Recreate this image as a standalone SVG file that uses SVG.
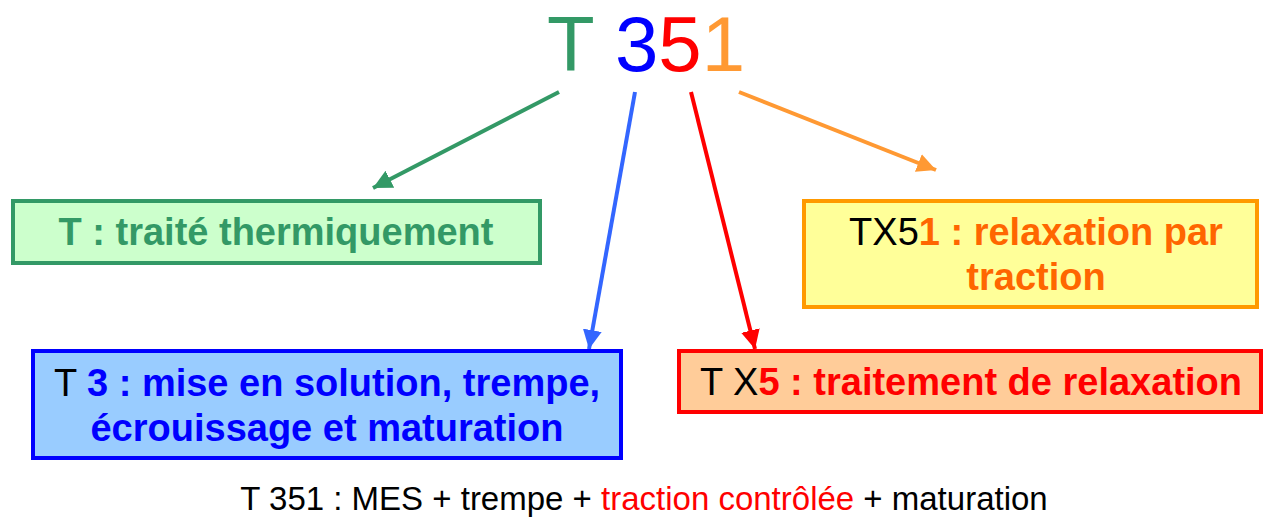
<svg xmlns="http://www.w3.org/2000/svg" width="1274" height="524" viewBox="0 0 1274 524">
<style>
.reg{font-family:"Liberation Sans",Arial,sans-serif;font-weight:normal}
.bold{font-family:"Liberation Sans",Arial,sans-serif;font-weight:bold}
.box{stroke-width:4}
.lbl{font-size:38px}
.conn{fill:none;stroke-width:4}
</style>
<defs>
<marker id="ahG" viewBox="0 0 10 10" refX="10" refY="5" markerUnits="userSpaceOnUse" markerWidth="19" markerHeight="21" orient="auto"><path d="M0,0 L10,5 L0,10 z" fill="#339966"/></marker>
<marker id="ahB" viewBox="0 0 10 10" refX="10" refY="5" markerUnits="userSpaceOnUse" markerWidth="19" markerHeight="21" orient="auto"><path d="M0,0 L10,5 L0,10 z" fill="#3366FF"/></marker>
<marker id="ahR" viewBox="0 0 10 10" refX="10" refY="5" markerUnits="userSpaceOnUse" markerWidth="19" markerHeight="21" orient="auto"><path d="M0,0 L10,5 L0,10 z" fill="#FF0000"/></marker>
<marker id="ahO" viewBox="0 0 10 10" refX="10" refY="5" markerUnits="userSpaceOnUse" markerWidth="19" markerHeight="21" orient="auto"><path d="M0,0 L10,5 L0,10 z" fill="#FF9933"/></marker>
</defs>
<rect width="1274" height="524" fill="#FFFFFF"/>

<g id="title">
<text class="reg" x="547" y="71" font-size="78"><tspan fill="#339966">T</tspan> <tspan fill="#0000FF">3</tspan><tspan fill="#FF0000">5</tspan><tspan fill="#FF9933">1</tspan></text>
</g>

<g id="connectors">
<line class="conn" x1="559" y1="92" x2="373" y2="188" stroke="#339966" marker-end="url(#ahG)"/>
<line class="conn" x1="635" y1="92" x2="589" y2="349" stroke="#3366FF" marker-end="url(#ahB)"/>
<line class="conn" x1="691" y1="92" x2="755" y2="349" stroke="#FF0000" marker-end="url(#ahR)"/>
<line class="conn" x1="739" y1="92" x2="936" y2="170" stroke="#FF9933" marker-end="url(#ahO)"/>
</g>

<g id="node-T">
<rect class="box" x="13" y="201" width="527" height="62" fill="#CCFFCC" stroke="#339966"/>
<text class="bold lbl" x="276" y="245" text-anchor="middle" fill="#339966">T : traité thermiquement</text>
</g>

<g id="node-TX51">
<rect class="box" x="804" y="201" width="453" height="106" fill="#FFFF99" stroke="#FF9900"/>
<text class="lbl" x="1036" y="245" text-anchor="middle"><tspan class="reg" fill="#000000">TX5</tspan><tspan class="bold" fill="#FF6600">1 : relaxation par</tspan></text>
<text class="bold lbl" x="1036" y="290" text-anchor="middle" fill="#FF6600">traction</text>
</g>

<g id="node-T3">
<rect class="box" x="33" y="351" width="588" height="107" fill="#99CCFF" stroke="#0000FF"/>
<text class="lbl" x="327" y="396" text-anchor="middle"><tspan class="reg" fill="#000000">T </tspan><tspan class="bold" fill="#0000FF">3 : mise en solution, trempe,</tspan></text>
<text class="bold lbl" x="327" y="441" text-anchor="middle" fill="#0000FF">écrouissage et maturation</text>
</g>

<g id="node-TX5">
<rect class="box" x="679" y="351" width="582" height="61" fill="#FFCC99" stroke="#FF0000"/>
<text class="lbl" x="971" y="395" text-anchor="middle"><tspan class="reg" fill="#000000">T X</tspan><tspan class="bold" fill="#FF0000">5 : traitement de relaxation</tspan></text>
</g>

<g id="caption">
<text class="reg" x="644" y="510" font-size="33" text-anchor="middle" fill="#000000">T 351 : MES + trempe + <tspan fill="#FF0000">traction contrôlée</tspan> + maturation</text>
</g>
</svg>
